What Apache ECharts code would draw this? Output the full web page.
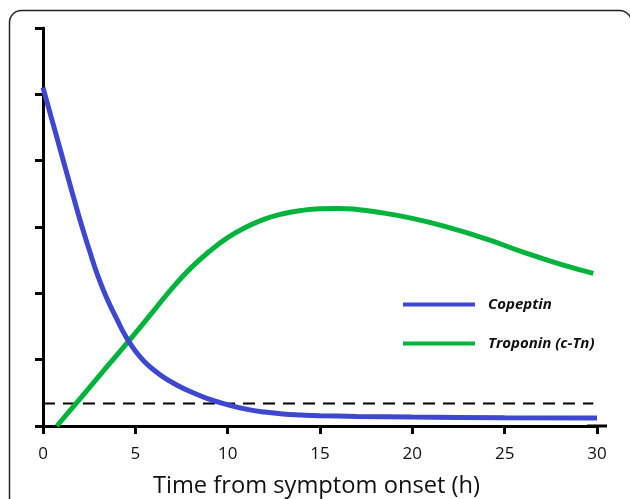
<!DOCTYPE html>
<html>
<head>
<meta charset="utf-8">
<script src="https://cdn.jsdelivr.net/npm/echarts@6/dist/echarts.min.js"></script>
<style>html,body{margin:0;padding:0;background:#fff;}#c{width:630px;height:499px;}</style>
</head>
<body>
<div id="c"></div>
<script>
const copeptinX = [0, 0.5, 1, 1.5, 2, 2.5, 3, 3.5, 4, 4.5, 5, 5.5, 6, 6.5, 7, 8, 9, 10, 11, 12, 13, 14, 15, 17, 20, 25, 30];
const copeptinY = [5.1, 4.6, 4.1, 3.6, 3.11, 2.66, 2.24, 1.9, 1.61, 1.34, 1.13, 0.97, 0.845, 0.74, 0.655, 0.515, 0.405, 0.32, 0.255, 0.21, 0.18, 0.165, 0.155, 0.145, 0.135, 0.125, 0.12];
const troponinX = [0.75, 2, 3, 4, 5, 6, 7, 8, 9, 10, 11, 12, 13, 14, 15, 16, 17, 18, 20, 22, 24, 26, 28, 29.8];
const troponinY = [0, 0.41, 0.74, 1.07, 1.4, 1.74, 2.08, 2.38, 2.63, 2.84, 3.0, 3.12, 3.2, 3.25, 3.275, 3.28, 3.265, 3.23, 3.13, 2.99, 2.82, 2.62, 2.44, 2.30];
const cutoffX = [0, 29.8];
const cutoffY = [0.34, 0.34];
const xTicks = [0, 5, 10, 15, 20, 25, 30];
const seriesNames = ['Copeptin', 'Troponin (c-Tn)'];
const xTitle = 'Time from symptom onset (h)';

const zip = (xs, ys) => xs.map((x, i) => [x, ys[i]]);
const chart = echarts.init(document.getElementById('c'), null, {renderer: 'canvas'});
const blue = '#3d47cf', green = '#00b33c';
chart.setOption({
  animation: false,
  graphic: [{
    type: 'rect', shape: {x: 9.5, y: 10.5, width: 622, height: 520, r: 12},
    style: {fill: 'none', stroke: '#222', lineWidth: 1.5}, z: -1
  }],
  grid: {left: 43, right: 33, top: 28, bottom: 73, outerBoundsMode: 'none', containLabel: false},
  legend: {
    orient: 'vertical', left: 398, top: 292, itemGap: 24,
    itemWidth: 72, itemHeight: 4, icon: 'rect',
    textStyle: {fontFamily: 'Open Sans', fontStyle: 'italic', fontWeight: 'bold', fontSize: 15, color: '#111', padding: [0, 0, 6, 8]},
    data: seriesNames
  },
  xAxis: {
    type: 'value', min: 0, max: 30, interval: 5,
    name: xTitle, nameLocation: 'middle', nameGap: 48,
    nameTextStyle: {fontFamily: 'Open Sans', fontSize: 23.7, color: '#111', padding: [0, 7, 0, 0]},
    axisLine: {lineStyle: {color: '#000', width: 3}, symbol: ['none', 'rect'], symbolSize: [3, 20]},
    axisTick: {length: 8, lineStyle: {width: 3, color: '#000'}},
    axisLabel: {fontFamily: 'Open Sans', fontSize: 17, color: '#111', margin: 20,
      formatter: v => xTicks.includes(v) ? String(v) : ''},
    splitLine: {show: false}
  },
  yAxis: {
    type: 'value', min: 0, max: 6, interval: 1,
    axisLine: {show: true, lineStyle: {color: '#000', width: 3}},
    axisTick: {show: true, length: 8, lineStyle: {width: 3, color: '#000'}},
    axisLabel: {show: false},
    splitLine: {show: false}
  },
  series: [
    {name: seriesNames[0], type: 'line', data: zip(copeptinX, copeptinY), smooth: 0.5,
      symbol: 'none', lineStyle: {color: blue, width: 5}, itemStyle: {color: blue}, z: 3},
    {name: seriesNames[1], type: 'line', data: zip(troponinX, troponinY), smooth: 0.5,
      symbol: 'none', lineStyle: {color: green, width: 5}, itemStyle: {color: green}, z: 2},
    {name: 'cutoff', type: 'line', data: zip(cutoffX, cutoffY), symbol: 'none',
      lineStyle: {color: '#000', width: 2, type: [12, 8]}, z: 1}
  ]
});
</script>
</body>
</html>
